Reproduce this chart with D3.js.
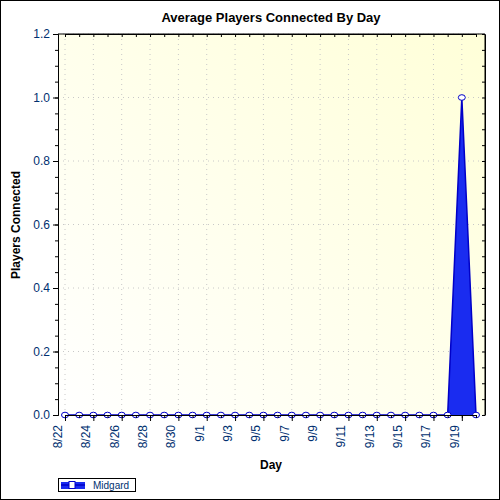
<!DOCTYPE html><html><head><script src="https://cdn.jsdelivr.net/npm/d3@7"></script>
<style>body{margin:0}</style></head><body><svg width="500" height="500"></svg><script>
const days=["8/22","8/23","8/24","8/25","8/26","8/27","8/28","8/29","8/30","8/31","9/1","9/2","9/3","9/4","9/5","9/6","9/7","9/8","9/9","9/10","9/11","9/12","9/13","9/14","9/15","9/16","9/17","9/18","9/19","9/20"];
const values=[0,0,0,0,0,0,0,0,0,0,0,0,0,0,0,0,0,0,0,0,0,0,0,0,0,0,0,0,1,0];
const yTicks=[0,0.2,0.4,0.6,0.8,1.0,1.2];
const svg=d3.select("svg");
const L=58,R=485,T=34,B=415;
const defs=svg.append("defs");
const g=defs.append("linearGradient").attr("id","bg").attr("x1",0).attr("x2",1).attr("y1",1).attr("y2",0);
g.append("stop").attr("offset",0).attr("stop-color","#ffffff");
g.append("stop").attr("offset",1).attr("stop-color","#ffffd8");
svg.append("rect").attr("x",0.5).attr("y",0.5).attr("width",499).attr("height",499).attr("fill","#fff").attr("stroke","#000");
svg.append("rect").attr("x",L).attr("y",T).attr("width",R-L).attr("height",B-T).attr("fill","url(#bg)");
const x=d3.scalePoint().domain(days).range([65,476]);
const y=d3.scaleLinear().domain([0,1.2]).range([B,T]);
const gr=svg.append("g").attr("stroke","#c8c8c8").attr("stroke-dasharray","1,4");
days.forEach((d,i)=>{if(i%2==0)gr.append("line").attr("x1",x(d)).attr("x2",x(d)).attr("y1",T).attr("y2",B);});
yTicks.forEach(v=>gr.append("line").attr("x1",L).attr("x2",R).attr("y1",y(v)).attr("y2",y(v)));
svg.append("path").datum(values).attr("fill","#1a2cf0").attr("d",d3.area().x((d,i)=>x(days[i])).y0(B).y1(d=>y(d)));
svg.append("path").datum(values).attr("fill","none").attr("stroke","#0000c8").attr("stroke-width",1.5).attr("d",d3.line().x((d,i)=>x(days[i])).y(d=>y(d)));
svg.selectAll("ellipse.m").data(values).join("ellipse").attr("cx",(d,i)=>x(days[i])).attr("cy",d=>y(d)).attr("rx",3.5).attr("ry",2.8).attr("fill","#fff").attr("stroke","#0000c8");
svg.append("g").attr("transform",`translate(${L},0)`).call(d3.axisLeft(y).tickValues(yTicks).tickFormat(d3.format(".1f")).tickSizeOuter(0).tickSize(5));
const minor=d3.range(0,1.2001,0.05);
svg.append("g").attr("transform",`translate(${L},0)`).call(d3.axisLeft(y).tickValues(minor).tickFormat("").tickSize(3).tickSizeOuter(0));
svg.append("g").attr("transform",`translate(${R},0)`).call(d3.axisLeft(y).tickValues(minor).tickFormat("").tickSize(3).tickSizeOuter(0));
const xl=svg.append("g").attr("transform",`translate(0,${B})`).call(d3.axisBottom(x).tickValues(days.filter((d,i)=>i%2==0)).tickSize(6).tickSizeOuter(0));
svg.append("g").attr("transform",`translate(0,${B})`).call(d3.axisBottom(x).tickFormat("").tickSize(3).tickSizeOuter(0));
svg.append("g").attr("transform",`translate(0,${T})`).call(d3.axisBottom(x).tickFormat("").tickSize(3).tickSizeOuter(0));
svg.selectAll(".domain").attr("stroke","#000");
svg.append("line").attr("x1",R).attr("x2",R).attr("y1",T).attr("y2",B).attr("stroke","#000");
svg.append("line").attr("x1",L).attr("x2",R).attr("y1",T).attr("y2",T).attr("stroke","#000");
svg.selectAll(".tick text").attr("font-family","Liberation Sans, Arial").attr("font-size",12).attr("fill","#003070");
xl.selectAll(".tick text").attr("transform","rotate(-90)").attr("text-anchor","end").attr("dx","-0.5em").attr("dy","-0.3em").attr("y",0).attr("x",-4);
svg.append("text").attr("x",271).attr("y",22).attr("text-anchor","middle").attr("font-family","Liberation Sans, Arial").attr("font-weight","bold").attr("font-size",13).text("Average Players Connected By Day");
svg.append("text").attr("x",271).attr("y",469).attr("text-anchor","middle").attr("font-family","Liberation Sans, Arial").attr("font-weight","bold").attr("font-size",12).text("Day");
svg.append("text").attr("transform","translate(20,225) rotate(-90)").attr("text-anchor","middle").attr("font-family","Liberation Sans, Arial").attr("font-weight","bold").attr("font-size",12).text("Players Connected");
const lg=svg.append("g");
lg.append("rect").attr("x",58.5).attr("y",478.5).attr("width",77).attr("height",13).attr("fill","#fff").attr("stroke","#000");
lg.append("rect").attr("x",61).attr("y",482).attr("width",24).attr("height",7).attr("fill","#1a2cf0");
lg.append("line").attr("x1",61).attr("x2",85).attr("y1",485).attr("y2",485).attr("stroke","#0000c8").attr("stroke-width",1.5);
lg.append("rect").attr("x",69).attr("y",481.5).attr("width",6).attr("height",7).attr("fill","#fff").attr("stroke","#0000c8");
lg.append("text").attr("x",93).attr("y",489).attr("font-family","Liberation Sans, Arial").attr("font-size",10).attr("fill","#003070").text("Midgard");
</script></body></html>
